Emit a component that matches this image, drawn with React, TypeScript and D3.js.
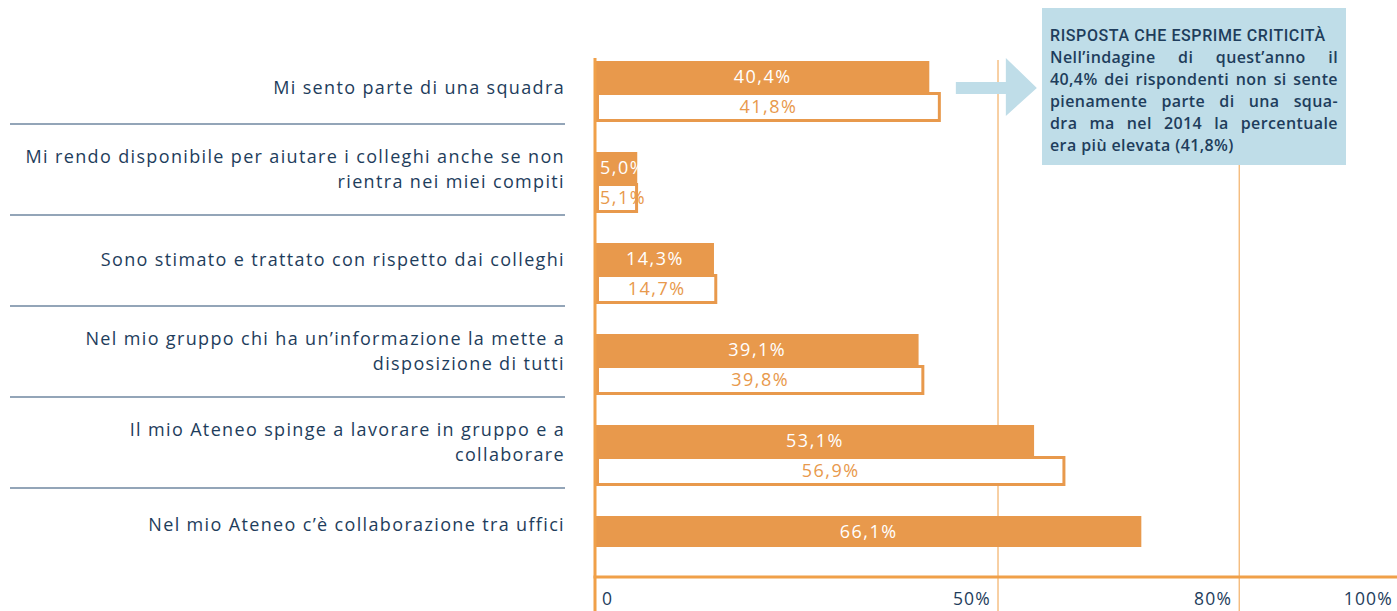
import React, { useRef, useEffect } from "react";
import * as d3 from "d3";

// Data
const categories = [
  ["Mi sento parte di una squadra"],
  ["Mi rendo disponibile per aiutare i colleghi anche se non", "rientra nei miei compiti"],
  ["Sono stimato e trattato con rispetto dai colleghi"],
  ["Nel mio gruppo chi ha un’informazione la mette a", "disposizione di tutti"],
  ["Il mio Ateneo spinge a lavorare in gruppo e a", "collaborare"],
  ["Nel mio Ateneo c’è collaborazione tra uffici"],
];
const currentValues = [40.4, 5.0, 14.3, 39.1, 53.1, 66.1];
const previousValues: (number | null)[] = [41.8, 5.1, 14.7, 39.8, 56.9, null];
const tickValues = [0, 50, 80, 100];
const gridValues = [50, 80];

const noteTitle = "RISPOSTA CHE ESPRIME CRITICITÀ";
const noteLines = [
  "Nell’indagine di quest’anno il",
  "40,4% dei rispondenti non si sente",
  "pienamente parte di una squa-",
  "dra ma nel 2014 la percentuale",
  "era più elevata (41,8%)",
];

// Style
const WIDTH = 1397;
const HEIGHT = 611;
const ORANGE = "#e8994c";
const AXIS_ORANGE = "#f0a049";
const NAVY = "#1e3d5c";
const RULE = "#6f87a0";
const NOTE_BG = "#bfdde8";
const FONT = "'Open Sans', sans-serif";

const fmt = (v: number) => v.toFixed(1).replace(".", ",") + "%";

export default function App() {
  const svgRef = useRef<SVGSVGElement>(null);

  useEffect(() => {
    draw();
  }, []);

  function draw() {
    const svg = d3.select(svgRef.current);
    svg.selectAll("*").remove();

    const x0 = 596;
    const x = d3.scaleLinear().domain([0, 100]).range([x0, x0 + 825]);
    const grid = d3.scaleLinear().domain([0, 100]).range([x0, 1400]);
    const rows = d3.scaleBand<number>()
      .domain(d3.range(categories.length))
      .range([61, 61 + categories.length * 91]);
    const barH = 31;
    const axisY = 577;

    // value label centred on the bar, but never starting left of the axis
    function barLabel(v: number, y: number, color: string) {
      const t = svg.append("text")
        .attr("y", y)
        .attr("dy", "0.35em")
        .attr("text-anchor", "middle")
        .attr("font-family", FONT)
        .attr("font-size", 18)
        .attr("letter-spacing", 1.5)
        .attr("fill", color)
        .text(fmt(v));
      const w = (t.node() as SVGTextElement).getComputedTextLength();
      t.attr("x", Math.max((x(0) + x(v)) / 2, x0 + 4 + w / 2));
    }

    // gridlines
    svg.selectAll(".grid")
      .data(gridValues)
      .join("line")
      .attr("x1", (d) => grid(d)).attr("x2", (d) => grid(d))
      .attr("y1", 60).attr("y2", HEIGHT)
      .attr("stroke", AXIS_ORANGE)
      .attr("stroke-width", 1);

    // row separators
    categories.slice(0, -1).forEach((_, i) => {
      const y = rows(i)! + 63;
      svg.append("line")
        .attr("x1", 10).attr("x2", 565)
        .attr("y1", y).attr("y2", y)
        .attr("stroke", RULE)
        .attr("stroke-width", 1.5);
    });

    // category labels
    categories.forEach((lines, i) => {
      const last = categories.length - 1;
      const cy = rows(i)! + (i === 0 ? 27 : i === last ? 9 : 17);
      const lh = 25.5;
      const t = svg.append("text")
        .attr("text-anchor", "end")
        .attr("font-family", FONT)
        .attr("font-size", 18)
        .attr("letter-spacing", 1.35)
        .attr("fill", NAVY);
      lines.forEach((ln, k) => {
        t.append("tspan")
          .attr("x", 565)
          .attr("y", cy + (k - (lines.length - 1) / 2) * lh)
          .attr("dy", "0.35em")
          .text(ln);
      });
    });

    // current bars (filled)
    currentValues.forEach((v, i) => {
      const y = rows(i)!;
      svg.append("rect")
        .attr("x", x(0)).attr("y", y)
        .attr("width", x(v) - x(0)).attr("height", barH)
        .attr("fill", ORANGE);
      barLabel(v, y + barH / 2, "#fff");
    });

    // previous bars (outlined)
    previousValues.forEach((v, i) => {
      if (v == null) return;
      const y = rows(i)! + barH;
      svg.append("rect")
        .attr("x", x(0) + 1.5).attr("y", y + 1.5)
        .attr("width", x(v) - x(0) - 3).attr("height", 27)
        .attr("fill", "#fff")
        .attr("stroke", ORANGE)
        .attr("stroke-width", 3);
      barLabel(v, y + 15, ORANGE);
    });

    // axes
    svg.append("line")
      .attr("x1", x0 - 1).attr("x2", x0 - 1)
      .attr("y1", 58).attr("y2", HEIGHT)
      .attr("stroke", AXIS_ORANGE).attr("stroke-width", 3);
    svg.append("line")
      .attr("x1", x0 - 2.5).attr("x2", WIDTH)
      .attr("y1", axisY).attr("y2", axisY)
      .attr("stroke", AXIS_ORANGE).attr("stroke-width", 3);

    svg.selectAll(".tick")
      .data(tickValues)
      .join("text")
      .attr("x", (d) => (d === 0 ? grid(d) + 6 : grid(d) - 7))
      .attr("y", 599)
      .attr("dy", "0.35em")
      .attr("text-anchor", (d) => (d === 0 ? "start" : "end"))
      .attr("font-family", FONT)
      .attr("font-size", 17.5)
      .attr("letter-spacing", 1.2)
      .attr("fill", NAVY)
      .text((d) => (d === 0 ? "0" : d + "%"));

    // arrow pointing at note
    const ay = rows(0)! + 27;
    const ax = x(previousValues[0]!) + 15;
    const arrow = d3.path();
    arrow.moveTo(ax, ay - 6);
    arrow.lineTo(ax + 50, ay - 6);
    arrow.lineTo(ax + 50, ay - 30);
    arrow.lineTo(ax + 81, ay);
    arrow.lineTo(ax + 50, ay + 28);
    arrow.lineTo(ax + 50, ay + 6);
    arrow.lineTo(ax, ay + 6);
    arrow.closePath();
    svg.append("path").attr("d", arrow.toString()).attr("fill", NOTE_BG);

    // note box
    const bx = 1042, by = 8, bw = 304, bh = 157;
    svg.append("rect")
      .attr("x", bx).attr("y", by)
      .attr("width", bw).attr("height", bh)
      .attr("fill", NOTE_BG);
    svg.append("text")
      .attr("x", bx + 8).attr("y", 41)
      .attr("font-family", "Roboto, sans-serif")
      .attr("font-weight", 500)
      .attr("font-size", 16)
      .attr("letter-spacing", 0.6)
      .attr("fill", NAVY)
      .text(noteTitle);
    const innerW = bw - 16;
    noteLines.forEach((ln, k) => {
      const t = svg.append("text")
        .attr("x", bx + 8).attr("y", 63 + k * 22)
        .attr("font-family", FONT)
        .attr("font-weight", 600)
        .attr("font-size", 16)
        .attr("letter-spacing", 0.4)
        .attr("fill", NAVY)
        .text(ln);
      if (k < noteLines.length - 1) {
        const len = (t.node() as SVGTextElement).getComputedTextLength();
        const gaps = ln.split(" ").length - 1;
        if (gaps > 0) t.attr("word-spacing", Math.max(0, (innerW - len) / gaps));
      }
    });
  }

  return (
    <svg
      ref={svgRef}
      width={WIDTH}
      height={HEIGHT}
      style={{ position: "absolute", left: 0, top: 0, background: "#fff" }}
    />
  );
}
